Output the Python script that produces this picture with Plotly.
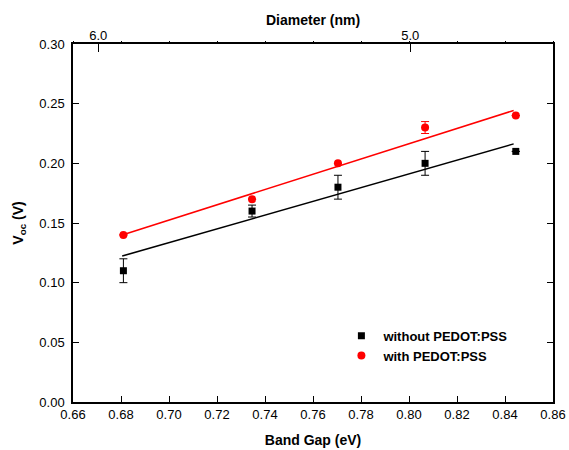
import plotly.graph_objects as go

# Data
band_gap = [0.681, 0.7346, 0.7704, 0.8067, 0.8445]
voc_without = [0.11, 0.16, 0.18, 0.20, 0.21]
err_without = [0.01, 0.005, 0.01, 0.01, 0.0]
voc_with = [0.14, 0.17, 0.20, 0.23, 0.24]
err_with = [0.0, 0.0, 0.0, 0.005, 0.0]

fit_x = [0.6805, 0.8436]
fit_without = [0.1223, 0.2163]
fit_with = [0.1400, 0.2443]

diam_tick_pos = [0.6705, 0.8005]
diam_tick_text = ["6.0", "5.0"]

FONT = "Liberation Sans, Arial, sans-serif"

fig = go.Figure()

fig.add_trace(go.Scatter(x=fit_x, y=fit_without, mode="lines",
                         line=dict(color="black", width=1.5), showlegend=False, hoverinfo="skip"))
fig.add_trace(go.Scatter(x=fit_x, y=fit_with, mode="lines",
                         line=dict(color="red", width=1.5), showlegend=False, hoverinfo="skip"))

fig.add_trace(go.Scatter(
    x=band_gap, y=voc_without, mode="markers", name="<b>without PEDOT:PSS</b>",
    marker=dict(symbol="square", size=7, color="black"),
    error_y=dict(type="data", array=err_without, visible=True, color="black", thickness=1, width=4)))
fig.add_trace(go.Scatter(
    x=band_gap, y=voc_with, mode="markers", name="<b>with PEDOT:PSS</b>",
    marker=dict(symbol="circle", size=8, color="red"),
    error_y=dict(type="data", array=err_with, visible=True, color="red", thickness=1, width=4)))

# invisible traces to activate top axes
fig.add_trace(go.Scatter(x=[0.66, 0.86], y=[0, 0], xaxis="x2", mode="markers",
                         marker=dict(opacity=0), showlegend=False, hoverinfo="skip"))
fig.add_trace(go.Scatter(x=[0.66, 0.86], y=[0, 0], xaxis="x3", mode="markers",
                         marker=dict(opacity=0), showlegend=False, hoverinfo="skip"))

fig.update_layout(
    width=569, height=450,
    margin=dict(l=73, r=16, t=44, b=48, autoexpand=False),
    paper_bgcolor="white", plot_bgcolor="white",
    font=dict(family=FONT, size=13, color="black"),
    xaxis=dict(
        range=[0.66, 0.86], tickmode="linear", tick0=0.66, dtick=0.02, tickformat=".2f",
        ticks="inside", ticklen=6, tickwidth=1, tickcolor="black",
        showline=True, linecolor="black", linewidth=1.5, mirror=True,
        showgrid=False, zeroline=False, automargin=False,
        ticklabeloverflow="allow",
        title=dict(text="<b>Band Gap (eV)</b>", font=dict(size=14), standoff=14),
    ),
    xaxis2=dict(
        overlaying="x", side="top", range=[0.66, 0.86],
        tickmode="array", tickvals=diam_tick_pos, ticktext=diam_tick_text,
        ticks="inside", ticklen=8, tickwidth=1, tickcolor="black",
        showline=False, showgrid=False, zeroline=False, automargin=False,
    ),
    xaxis3=dict(
        overlaying="x", side="top", range=[0.66, 0.86],
        tickmode="linear", tick0=0.66, dtick=0.02,
        ticks="outside", ticklen=2, tickwidth=1, tickcolor="black",
        showticklabels=False, showline=False, showgrid=False, zeroline=False,
        automargin=False,
    ),
    yaxis=dict(
        range=[0, 0.30], tickmode="linear", tick0=0, dtick=0.05, tickformat=".2f",
        ticks="inside", ticklen=6, tickwidth=1, tickcolor="black",
        showline=True, linecolor="black", linewidth=1.5, mirror="ticks",
        showgrid=False, zeroline=False, automargin=False,
        ticklabelstandoff=4,
        title=dict(text="<b>V<sub>oc</sub> (V)</b>", font=dict(size=14), standoff=12),
    ),
    legend=dict(
        x=0.555, y=0.227, xanchor="left", yanchor="top",
        font=dict(family=FONT, size=13), bgcolor="rgba(0,0,0,0)",
        tracegroupgap=0, itemwidth=34,
    ),
    annotations=[dict(
        text="<b>Diameter (nm)</b>", xref="paper", yref="paper",
        x=0.5, y=1, yshift=24, xanchor="center", yanchor="middle",
        showarrow=False, font=dict(family=FONT, size=14, color="black"),
    )],
)

fig.write_html("out.html",
               config={"displayModeBar": False},
               post_script="document.body.style.margin='0';document.body.style.overflow='hidden';")
